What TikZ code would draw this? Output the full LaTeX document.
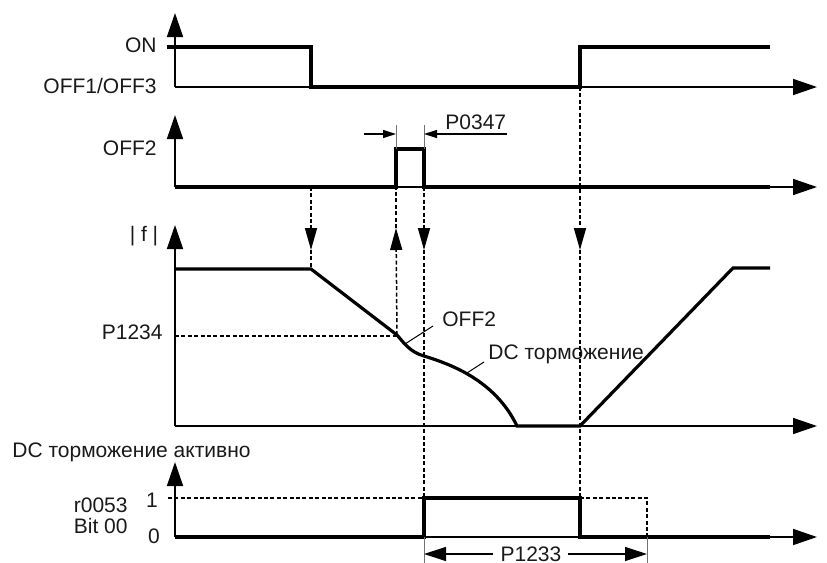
\documentclass[tikz,border=0pt]{standalone}
\usepackage{fontspec}
\setmainfont{Liberation Sans}
\usetikzlibrary{arrows.meta}
\begin{document}
\begin{tikzpicture}[x=0.5pt,y=-0.5pt,line join=miter,
  ax/.style={line width=0.8pt,-{Triangle[length=12pt,width=8pt]}},
  sig/.style={line width=1.6pt},
  dl/.style={line width=0.75pt,dash pattern=on 2pt off 1.2pt},
  dlarr/.style={dl,-{Triangle[length=11pt,width=6pt]}},
  ext/.style={line width=0.5pt,black!55},
  leader/.style={line width=0.5pt},
  dimarr/.style={line width=0.6pt,-{Triangle[length=6.5pt,width=4pt]}},
  bigdim/.style={line width=0.6pt,-{Triangle[length=11pt,width=7pt]}},
  lbl/.style={font=\fontsize{10.5pt}{12pt}\selectfont,inner sep=0pt,text=black!90},
]
\useasboundingbox (0,0) rectangle (827,563);

% ---------- key coordinates ----------
\coordinate (o1) at (175,87);   \coordinate (y1) at (175,13);  \coordinate (x1) at (817,87);
\coordinate (o2) at (175,187);  \coordinate (y2) at (175,115); \coordinate (x2) at (817,187);
\coordinate (o3) at (175,426);  \coordinate (y3) at (175,225); \coordinate (x3) at (817,426);
\coordinate (o4) at (175,537);  \coordinate (y4) at (175,462); \coordinate (x4) at (817,537);

% ---------- axes ----------
\draw[ax] (o1) -- (y1);  \draw[ax] (o1) -- (x1);
\draw[ax] (o2) -- (y2);  \draw[ax] (o2) -- (x2);
\draw[ax] (o3) -- (y3);  \draw[ax] (o3) -- (x3);
\draw[ax] (o4) -- (y4);  \draw[ax] (o4) -- (x4);

% ---------- signal 1: ON / OFF1/OFF3 ----------
\coordinate (s1a) at (167,47);
\coordinate (s1b) at (311,47);
\coordinate (s1c) at (311,87);
\coordinate (s1d) at (580,87);
\coordinate (s1e) at (580,47);
\coordinate (s1f) at (770,47);
\draw[sig] (s1a) -- (s1b) -- (s1c) -- (s1d) -- (s1e) -- (s1f);

% ---------- signal 2: OFF2 ----------
\coordinate (p2a) at (396,187);
\coordinate (p2b) at (396,149);
\coordinate (p2c) at (424,149);
\coordinate (p2d) at (424,187);
\coordinate (p2e) at (770,187);
\draw[sig] (o2) -- (p2a) -- (p2b) -- (p2c) -- (p2d) -- (p2e);

% P0347 dimension
\coordinate (e1) at (396,125);
\coordinate (e2) at (424,125);
\draw[ext] (e1) -- (p2b);
\draw[ext] (e2) -- (p2c);
\coordinate (d1) at (364,134); \coordinate (d1t) at (396,134);
\coordinate (d2) at (507,134); \coordinate (d2t) at (424,134);
\draw[dimarr] (d1) -- (d1t);
\draw[dimarr] (d2) -- (d2t);
\node[lbl,anchor=base west] (tP0347) at (445,129) {P0347};

% ---------- signal 3: |f| ----------
\coordinate (f0) at (175,269);
\coordinate (f1) at (311,269);
\coordinate (f2) at (397,335);
\coordinate (f3) at (424,356);
\coordinate (f4) at (517,426);
\coordinate (f5) at (580,426);
\coordinate (f6) at (733,268);
\coordinate (f7) at (770,268);
\draw[sig] (f0) -- (f1) -- (f2)
  .. controls (404,343) and (410,352) .. (f3)
  .. controls (450,364) and (495,380) .. (f4)
  -- (f5) -- (f6) -- (f7);

% P1234 level
\coordinate (pl) at (175,336);
\coordinate (pr) at (397,336);
\draw[dl] (pl) -- (pr);

% curve labels
\node[lbl,anchor=base west] (tOFF2b) at (442,326) {OFF2};
\draw[leader] (405,344) -- (433,326);
\node[lbl,anchor=base west] (tDC) at (488,359) {DC торможение};
\draw[leader] (467,373) -- (484,362);

% ---------- signal 4: r0053 Bit 00 ----------
\coordinate (r1) at (424,537);
\coordinate (r2) at (424,498);
\coordinate (r3) at (580,498);
\coordinate (r4) at (580,537);
\coordinate (r5) at (770,537);
\draw[sig] (o4) -- (r1) -- (r2) -- (r3) -- (r4) -- (r5);
\coordinate (l1) at (168,498);
\coordinate (q1) at (647,498);
\coordinate (q2) at (647,537);
\draw[dl] (l1) -- (r2);
\draw[dl] (r3) -- (q1) -- (q2);

% P1233 dimension
\coordinate (b1) at (424,563);
\coordinate (b2) at (647,563);
\draw[ext] (r1) -- (b1);
\draw[ext] (q2) -- (b2);
\coordinate (m1) at (424,554); \coordinate (m1s) at (493,554);
\coordinate (m2) at (647,554); \coordinate (m2s) at (568,554);
\draw[bigdim] (m1s) -- (m1);
\draw[bigdim] (m2s) -- (m2);
\node[lbl,anchor=base] (tP1233) at (531,561) {P1233};

% ---------- dashed vertical links ----------
\coordinate (a1t) at (311,250);
\draw[dlarr] (311,187) -- (a1t);
\draw[dl] (a1t) -- (f1);

\coordinate (a2t) at (396,228);
\draw[dlarr] (f2) -- (a2t);
\draw[dl] (a2t) -- (p2a);

\coordinate (a3t) at (424,250);
\draw[dlarr] (p2d) -- (a3t);
\draw[dl] (a3t) -- (r2);

\coordinate (a4t) at (580,250);
\draw[dlarr] (s1d) -- (a4t);
\draw[dl] (a4t) -- (r3);

% ---------- axis labels ----------
\node[lbl,anchor=base east] (tON) at (157,52) {ON};
\node[lbl,anchor=base east] (tOFF13) at (157,93) {OFF1/OFF3};
\node[lbl,anchor=base east] (tOFF2) at (157,155) {OFF2};
\node[lbl,anchor=base] (tf) at (144,241) {| f |};
\node[lbl,anchor=base east] (tP1234) at (163,339) {P1234};
\node[lbl,anchor=base west] (tDCa) at (12,457) {DC торможение активно};
\node[lbl,anchor=base east] (tr) at (128,512) {r0053};
\node[lbl,anchor=base east] (tbit) at (128,533) {Bit 00};
\node[lbl,anchor=base] (t1) at (152,507) {1};
\node[lbl,anchor=base] (t0) at (154,543) {0};
\end{tikzpicture}
\end{document}
